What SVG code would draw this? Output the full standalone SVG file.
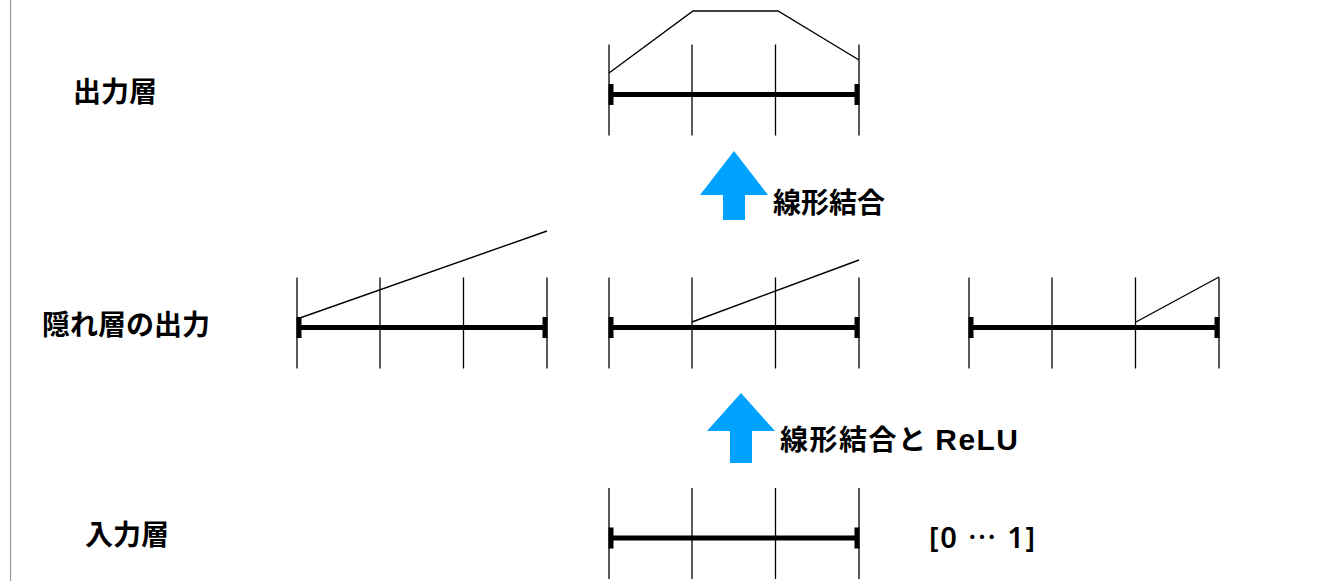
<svg xmlns="http://www.w3.org/2000/svg" width="1339" height="581" viewBox="0 0 1339 581">
<style>
.tick{stroke:#000;stroke-width:1.3;fill:none}
.axis{stroke:#000;stroke-width:5;fill:none}
.cap{fill:#000}
.plot{stroke:#000;stroke-width:1.4;fill:none;stroke-linejoin:miter}
.lbl{font-family:"Noto Sans CJK JP","Noto Sans",sans-serif;font-weight:bold;font-size:28px;fill:#000}
.lat{font-family:"Liberation Sans",Arial,sans-serif;font-weight:bold;font-size:30px}
.arrow{fill:#00A2FF}
</style>
<defs>
<g id="axis">
<line class="tick" x1="0" y1="-50" x2="0" y2="41"/>
<line class="tick" x1="83" y1="-50" x2="83" y2="41"/>
<line class="tick" x1="166.5" y1="-50" x2="166.5" y2="41"/>
<line class="tick" x1="250" y1="-50" x2="250" y2="41"/>
<line class="axis" x1="2" y1="0" x2="248" y2="0"/>
<rect class="cap" x="-0.5" y="-10.5" width="5" height="21"/>
<rect class="cap" x="245.5" y="-10.5" width="5" height="21"/>
</g>
</defs>
<line x1="10.5" y1="0" x2="10.5" y2="581" stroke="#999" stroke-width="1.2"/>
<g id="output-layer">
<use href="#axis" x="609" y="94.5"/>
<polyline class="plot" points="609,73 693,11 778,11 859,60"/>
<text class="lbl" x="73" y="102">出力層</text>
</g>
<g id="hidden-layer">
<use href="#axis" x="297" y="327.5"/>
<polyline class="plot" points="297,319 547,231"/>
<use href="#axis" x="609" y="327.5"/>
<polyline class="plot" points="692,322 859,260"/>
<use href="#axis" x="969" y="327.5"/>
<polyline class="plot" points="1136,322 1219,277"/>
<text class="lbl" x="42" y="335">隠れ層の出力</text>
</g>
<g id="input-layer">
<use href="#axis" x="609" y="538"/>
<text class="lbl" x="85" y="545">入力層</text>
<text x="929" y="548" textLength="106" lengthAdjust="spacing" font-family="'Noto Sans','Noto Sans CJK JP',sans-serif" font-weight="600" font-size="29" fill="#000">[0 <tspan font-family="'Noto Sans CJK JP',sans-serif" font-weight="500">…</tspan> 1]</text>
</g>
<g id="connectors">
<polygon class="arrow" points="734,151 768,195 745,195 745,220 723,220 723,195 700,195"/>
<text class="lbl" x="773" y="213">線形結合</text>
<polygon class="arrow" points="741,393 775,431 752,431 752,463 730,463 730,431 707,431"/>
<text class="lbl" x="780" y="450" textLength="238" lengthAdjust="spacing">線形結合と <tspan class="lat">ReLU</tspan></text>
</g>
</svg>
